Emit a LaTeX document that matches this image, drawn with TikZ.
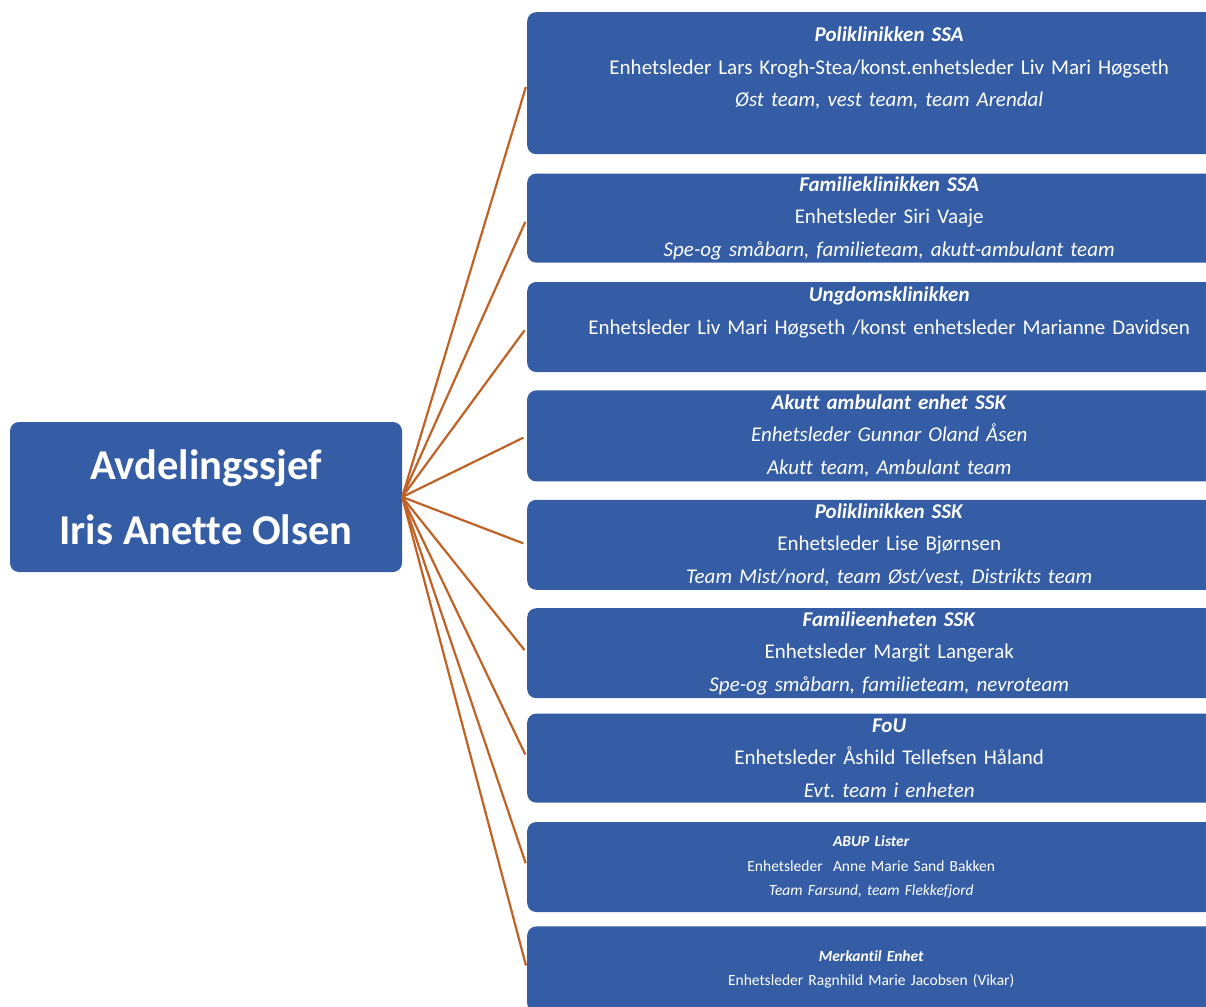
\documentclass[tikz,border=0pt]{standalone}
\usepackage{fontspec}
\setmainfont{Carlito}[Ligatures=NoCommon]
\usepackage{xcolor}
\usepackage{tikz}
\usetikzlibrary{positioning}
\definecolor{boxblue}{RGB}{52,93,166}
\definecolor{linkorange}{RGB}{192,97,38}
\newcommand{\unitname}[1]{\textbf{\textit{#1}}}
\frenchspacing

\begin{document}
\begin{tikzpicture}[x=1pt, y=-1pt, node distance=18pt]
    \tikzstyle{chief} = [rectangle, rounded corners=9pt, fill=boxblue, text=white, minimum width=392pt, minimum height=150pt, align=center, font=\fontsize{42.5}{65}\selectfont\bfseries]
    \tikzstyle{unit}  = [rectangle, rounded corners=9pt, fill=boxblue, text=white, inner xsep=0pt, inner ysep=0pt, text width=724pt, minimum height=90pt, align=center, font=\fontsize{21}{32.5}\selectfont]
    \tikzstyle{minor} = [unit, text width=688pt, font=\fontsize{15.5}{24.5}\selectfont]
    \tikzstyle{link}  = [draw=linkorange, line width=2.2pt, shorten >=4pt]

    \useasboundingbox (0,0) rectangle (1206,1006);
    \clip (0,0) rectangle (1206,1006);

    \node (sjef) [chief] at (206,497) {Avdelingssjef\\Iris Anette Olsen};

    \node (polssa) [unit, minimum height=142pt, anchor=north west] at (527,12)
        {\unitname{Poliklinikken SSA}\\Enhetsleder Lars Krogh-Stea/konst.enhetsleder Liv Mari Høgseth\\\textit{Øst team, vest team, team Arendal}\\~};
    \node (famssa) [unit, minimum height=89pt, below=19pt of polssa]
        {\unitname{Familieklinikken SSA}\\Enhetsleder Siri Vaaje\\\textit{Spe-og småbarn, familieteam, akutt-ambulant team}};
    \node (ungdom) [unit, below=19pt of famssa]
        {\unitname{Ungdomsklinikken}\\Enhetsleder Liv Mari Høgseth /konst enhetsleder Marianne Davidsen\\~};
    \node (akutt)  [unit, minimum height=91pt, below=of ungdom]
        {\unitname{Akutt ambulant enhet SSK}\\\textit{Enhetsleder Gunnar Oland Åsen}\\\textit{Akutt team, Ambulant team}};
    \node (polssk) [unit, below=of akutt]
        {\unitname{Poliklinikken SSK}\\Enhetsleder Lise Bjørnsen\\\textit{Team Mist/nord, team Øst/vest, Distrikts team}};
    \node (famssk) [unit, below=of polssk]
        {\unitname{Familieenheten SSK}\\Enhetsleder Margit Langerak\\\textit{Spe-og småbarn, familieteam, nevroteam}};
    \node (fou)    [unit, minimum height=89pt, below=15pt of famssk]
        {\unitname{FoU}\\Enhetsleder Åshild Tellefsen Håland\\\textit{Evt. team i enheten}};
    \node (abup)   [minor, below=19pt of fou.south west, anchor=north west]
        {\unitname{ABUP Lister}\\Enhetsleder~~Anne Marie Sand Bakken\\\textit{Team Farsund, team Flekkefjord}};
    \node (merk)   [minor, minimum height=86pt, below=14pt of abup]
        {\unitname{Merkantil Enhet}\\Enhetsleder Ragnhild Marie Jacobsen (Vikar)};

    \draw [link] (sjef.east) -- (polssa.west);
    \draw [link] (sjef.east) -- (famssa.west);
    \draw [link] (sjef.east) -- (ungdom.west);
    \draw [link] (sjef.east) -- (akutt.west);
    \draw [link] (sjef.east) -- (polssk.west);
    \draw [link] (sjef.east) -- (famssk.west);
    \draw [link] (sjef.east) -- (fou.west);
    \draw [link] (sjef.east) -- (abup.west);
    \draw [link] (sjef.east) -- (merk.west);
\end{tikzpicture}
\end{document}
